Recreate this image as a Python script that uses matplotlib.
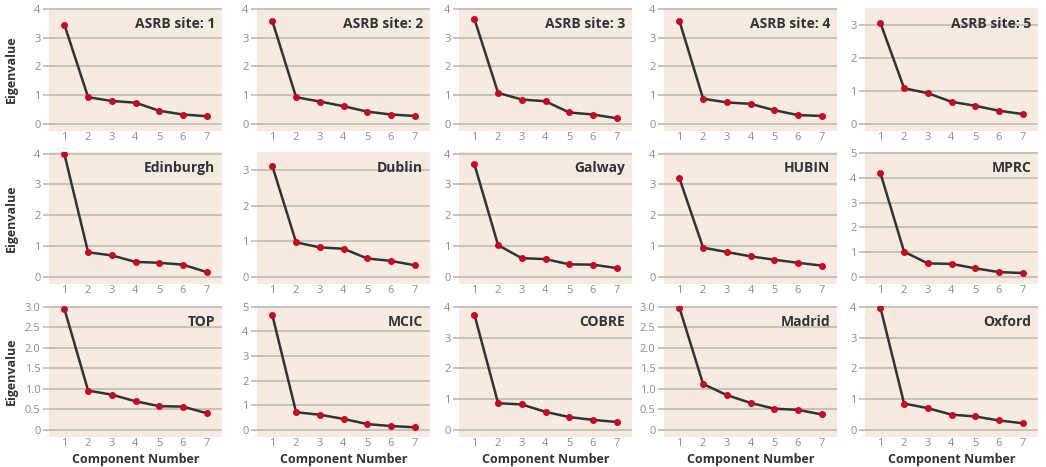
import matplotlib.pyplot as plt
import numpy as np

# Данные: собственные значения по сайтам
components = [1, 2, 3, 4, 5, 6, 7]
sites = ['ASRB site: 1', 'ASRB site: 2', 'ASRB site: 3', 'ASRB site: 4', 'ASRB site: 5',
         'Edinburgh', 'Dublin', 'Galway', 'HUBIN', 'MPRC',
         'TOP', 'MCIC', 'COBRE', 'Madrid', 'Oxford']

asrb1 = [3.45, 0.93, 0.80, 0.74, 0.46, 0.33, 0.27]
asrb2 = [3.57, 0.93, 0.78, 0.62, 0.43, 0.33, 0.28]
asrb3 = [3.65, 1.08, 0.85, 0.79, 0.40, 0.33, 0.20]
asrb4 = [3.58, 0.88, 0.75, 0.70, 0.48, 0.31, 0.28]
asrb5 = [3.05, 1.08, 0.93, 0.67, 0.55, 0.40, 0.30]
edinburgh = [3.98, 0.80, 0.70, 0.49, 0.46, 0.40, 0.16]
dublin = [3.10, 0.97, 0.83, 0.79, 0.52, 0.45, 0.33]
galway = [3.65, 1.03, 0.61, 0.58, 0.41, 0.40, 0.29]
hubin = [3.20, 0.95, 0.81, 0.67, 0.56, 0.46, 0.37]
mprc = [4.20, 1.02, 0.55, 0.53, 0.35, 0.20, 0.16]
top = [2.95, 0.96, 0.86, 0.70, 0.58, 0.57, 0.41]
mcic = [4.65, 0.72, 0.62, 0.45, 0.24, 0.16, 0.11]
cobre = [3.75, 0.87, 0.83, 0.59, 0.42, 0.33, 0.26]
madrid = [2.98, 1.12, 0.85, 0.66, 0.52, 0.49, 0.38]
oxford = [3.98, 0.86, 0.71, 0.50, 0.44, 0.31, 0.22]

values = [asrb1, asrb2, asrb3, asrb4, asrb5,
          edinburgh, dublin, galway, hubin, mprc,
          top, mcic, cobre, madrid, oxford]

# Верх оси Y и шаг делений для каждой панели
ymax = [4.03, 4.03, 4.03, 4.03, 3.5,
        4.05, 3.5, 4.05, 4.05, 5.05,
        3.02, 5.03, 4.03, 3.02, 4.03]
ystep = [1, 1, 1, 1, 1,
         1, 1, 1, 1, 1,
         0.5, 1, 1, 0.5, 1]

bg = '#f5ebe0'
grid_c = '#c3beb7'
tick_c = '#8c8c8c'
text_c = '#333333'

plt.rcParams['font.family'] = ['Open Sans', 'DejaVu Sans']

W, H = 1046, 467
fig = plt.figure(figsize=(W / 100, H / 100), dpi=100)

col_left = [49, 257, 459, 664, 865]
col_w = 173
rows = [(8, 131), (152, 284), (306, 437)]

for i, (name, vals) in enumerate(zip(sites, values)):
    r, c = divmod(i, 5)
    y0, y1 = rows[r]
    h = y1 - y0
    ax = fig.add_axes([col_left[c] / W, 1 - y1 / H, col_w / W, h / H])
    ax.set_facecolor(bg)
    for s in ax.spines.values():
        s.set_visible(False)
    ticks = np.arange(0, ymax[i] + 1e-6, ystep[i])
    ax.set_yticks(ticks)
    if ystep[i] == 0.5:
        ax.set_yticklabels(['0'] + [f'{t:.1f}' for t in ticks[1:]])
    else:
        ax.set_yticklabels([f'{t:g}' for t in ticks])
    # ноль примерно на 7 px выше нижнего края панели
    ax.set_ylim(-7 / (h - 7) * ymax[i], ymax[i])
    ax.set_xlim(0.35, 7.65)
    ax.set_xticks(components)
    ax.grid(axis='y', color=grid_c, linewidth=1.3)
    ax.set_axisbelow(True)
    ax.tick_params(axis='y', length=4, color=grid_c, width=1.3, labelsize=8,
                   labelcolor=tick_c, pad=2)
    ax.tick_params(axis='x', length=0, labelsize=8, labelcolor=tick_c, pad=1)
    ax.plot(components, vals, color=text_c, linewidth=1.8, zorder=2)
    ax.plot(components, vals, 'o', color='#d0021b', markersize=4, zorder=3)
    ax.text(0.96, 0.93, name, transform=ax.transAxes, ha='right', va='top',
            fontsize=10, fontweight='bold', color=text_c)
    if c == 0:
        ax.set_ylabel('Eigenvalue', fontsize=9, fontweight='bold', color=text_c)
        ax.yaxis.set_label_coords((18 - col_left[0]) / col_w, 0.5)
    if r == 2:
        ax.set_xlabel('Component Number', fontsize=9, fontweight='bold', color=text_c)
        ax.xaxis.set_label_coords(0.5, -(459 - y1) / h)
        ax.xaxis.label.set_va('center')

fig.savefig('out.png', dpi=100)
